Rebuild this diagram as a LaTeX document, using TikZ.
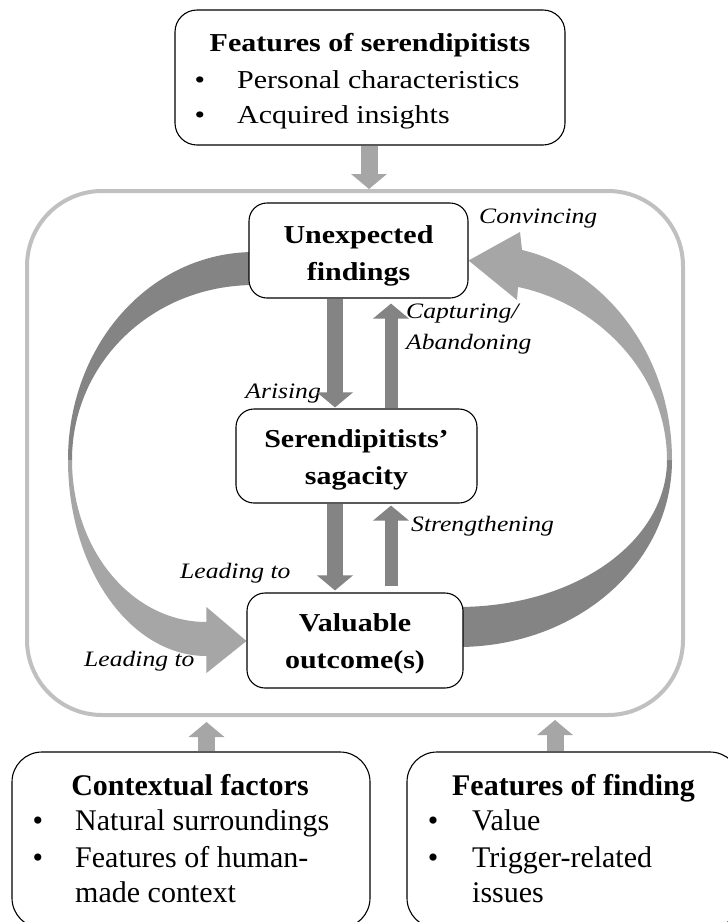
\documentclass[tikz,border=0pt]{standalone}
\usepackage{fontspec}
\setmainfont{Liberation Serif}
\usepackage{graphicx}
\usetikzlibrary{arrows.meta,calc,backgrounds}
\definecolor{lightg}{RGB}{166,166,166}
\definecolor{darkg}{RGB}{132,132,132}
\definecolor{contg}{RGB}{192,192,192}
\newcommand{\sq}[1]{\scalebox{1}[0.86]{#1}}
\begin{document}
\begin{tikzpicture}[x=1pt,y=-1pt,
  box/.style={draw=black, line width=1.1pt, fill=white, rounded corners=18pt, inner sep=0pt},
  boxtxt/.style={inner sep=0pt, align=center, font=\fontsize{30}{37}\selectfont\bfseries},
  bigbox/.style={draw=black, line width=1.1pt, fill=white, rounded corners=22pt, inner sep=0pt},
  txt/.style={inner sep=0pt, font=\fontsize{30}{36}\selectfont},
  ttl/.style={inner sep=0pt, anchor=base, font=\fontsize{30}{36}\selectfont\bfseries},
  lbl/.style={inner sep=0pt, font=\fontsize{25.6}{30}\selectfont\itshape},
  lightarr/.style={draw=lightg, line width=17pt, -{Triangle[width=35pt,length=15pt]}},
  darkarr/.style={draw=darkg, line width=16pt, -{Triangle[width=35pt,length=15pt]}},
  darkarrb/.style={draw=darkg, line width=13pt, -{Triangle[width=35pt,length=15pt]}},
]
\useasboundingbox (0,0) rectangle (728,922);

% container
\node[draw=contg, line width=4pt, rounded corners=75pt, minimum width=656pt, minimum height=524pt, inner sep=0pt] (cyc) at (355,453) {};

% top box
\node[bigbox, minimum width=390pt, minimum height=135pt] (fs) at (370,77.5) {};
\node[ttl] (fst) at (370,51) {\sq{Features of serendipitists}};
\node[txt, anchor=base] (fsb1) at (200,88) {\sq{•}};
\node[txt, anchor=base west] (fs1) at (237,88) {\sq{Personal characteristics}};
\node[txt, anchor=base] (fsb2) at (200,123) {\sq{•}};
\node[txt, anchor=base west] (fs2) at (237,123) {\sq{Acquired insights}};

% middle boxes
\node[box, minimum width=219pt, minimum height=95pt] (uf) at (358.5,250.5) {};
\node[boxtxt] (uft) at ($(uf.center)+(0,5)$) {\sq{Unexpected}\\\sq{findings}};
\node[box, minimum width=241pt, minimum height=94pt] (ss) at (356.5,456) {};
\node[boxtxt] (sst) at ($(ss.center)+(0,4)$) {\sq{Serendipitists’}\\\sq{sagacity}};
\node[box, minimum width=216pt, minimum height=95pt] (vo) at (355,640.5) {};
\node[boxtxt] (vot) at ($(vo.center)+(0,3)$) {\sq{Valuable}\\\sq{outcome(s)}};

% bottom boxes
\node[bigbox, rounded corners=30pt, minimum width=358pt, minimum height=176pt] (lb) at (191,840) {};
\node[ttl] (lbt) at (190,795) {Contextual factors};
\node[txt, anchor=base] (lbb1) at (38,830) {•};
\node[txt, anchor=base west] (lb1) at (75,830) {Natural surroundings};
\node[txt, anchor=base] (lbb2) at (38,867) {•};
\node[txt, anchor=base west] (lb2) at (75,867) {Features of human-};
\node[txt, anchor=base west] (lb3) at (75,902) {made context};

\node[bigbox, rounded corners=30pt, minimum width=333pt, minimum height=176pt] (rb) at (573.5,840) {};
\node[ttl] (rbt) at (573.5,795) {Features of finding};
\node[txt, anchor=base] (rbb1) at (433,830) {•};
\node[txt, anchor=base west] (rb1) at (472,830) {Value};
\node[txt, anchor=base] (rbb2) at (433,867) {•};
\node[txt, anchor=base west] (rb2) at (472,867) {Trigger-related};
\node[txt, anchor=base west] (rb3) at (472,902) {issues};

% labels
\node[lbl, anchor=base west] (lconv) at (479,223) {\sq{Convincing}};
\node[lbl, anchor=base west] (lcap) at (406,318) {\sq{Capturing/}};
\node[lbl, anchor=base west] (laba) at (406,349) {\sq{Abandoning}};
\node[lbl, anchor=base west] (lstr) at (411,531) {\sq{Strengthening}};
\node[lbl, anchor=base east] (lari) at (321,398) {\sq{Arising}};
\node[lbl, anchor=base west] (llead1) at (180,578) {\sq{Leading to}};
\node[lbl, anchor=base west] (llead2) at (84,666) {\sq{Leading to}};

% curved block arrows (behind boxes)
\begin{pgfonlayer}{background}
\fill[white] (0,0) rectangle (728,922);
% left: from findings to outcome
\fill[darkg] ($(uf.west)+(6,1.5)$) .. controls (150,252) and (68,345) .. (68,460)
  -- (72,460) .. controls (72,363) and (152,285) .. ($(uf.west)+(6,34.5)$) -- cycle;
\fill[lightg] (68,460) .. controls (68,568) and (130,656) .. ($(vo.west)+(-40,15.5)$)
  -- ($(vo.west)+(-40,32.5)$) -- ($(vo.west)+(0,0.5)$) -- ($(vo.west)+(-40,-33.5)$)
  -- ($(vo.west)+(-40,-18.5)$) .. controls (132,622) and (72,550) .. (72,460) -- cycle;
% right: from outcome to findings
\fill[darkg] ($(vo.east)+(-6,6.5)$) .. controls (578,647) and (672,563) .. (672,460)
  -- (667,460) .. controls (667,541) and (576,607) .. ($(vo.east)+(-6,-33.5)$) -- cycle;
\fill[lightg] (672,460) .. controls (672,350) and (600,268) .. (522,250)
  -- (520,232) -- ($(uf.east)+(0,10)$) -- (517,300) -- (518,287)
  .. controls (596,303) and (667,372) .. (667,460) -- cycle;
\end{pgfonlayer}

% straight block arrows
\coordinate (dc) at (335,0);
\coordinate (uc) at (391,0);
\coordinate (tc) at (369,0);
\coordinate (bl) at (206.5,0);
\coordinate (br) at (555,0);
\draw[lightarr] (tc |- fs.south) -- (tc |- cyc.north);
\draw[lightarr, shorten >=5pt] (bl |- lb.north) -- (bl |- cyc.south);
\draw[lightarr, shorten >=3pt] (br |- rb.north) -- (br |- cyc.south);
\draw[darkarr, shorten >=1pt] (dc |- uf.south) -- (dc |- ss.north);
\draw[darkarrb, shorten >=5pt] (uc |- ss.north) -- (uc |- uf.south);
\draw[darkarr, shorten >=2pt] (dc |- ss.south) -- (dc |- vo.north);
\draw[darkarrb, shorten >=2pt, shorten <=6pt] (uc |- vo.north) -- (uc |- ss.south);
\end{tikzpicture}
\end{document}
